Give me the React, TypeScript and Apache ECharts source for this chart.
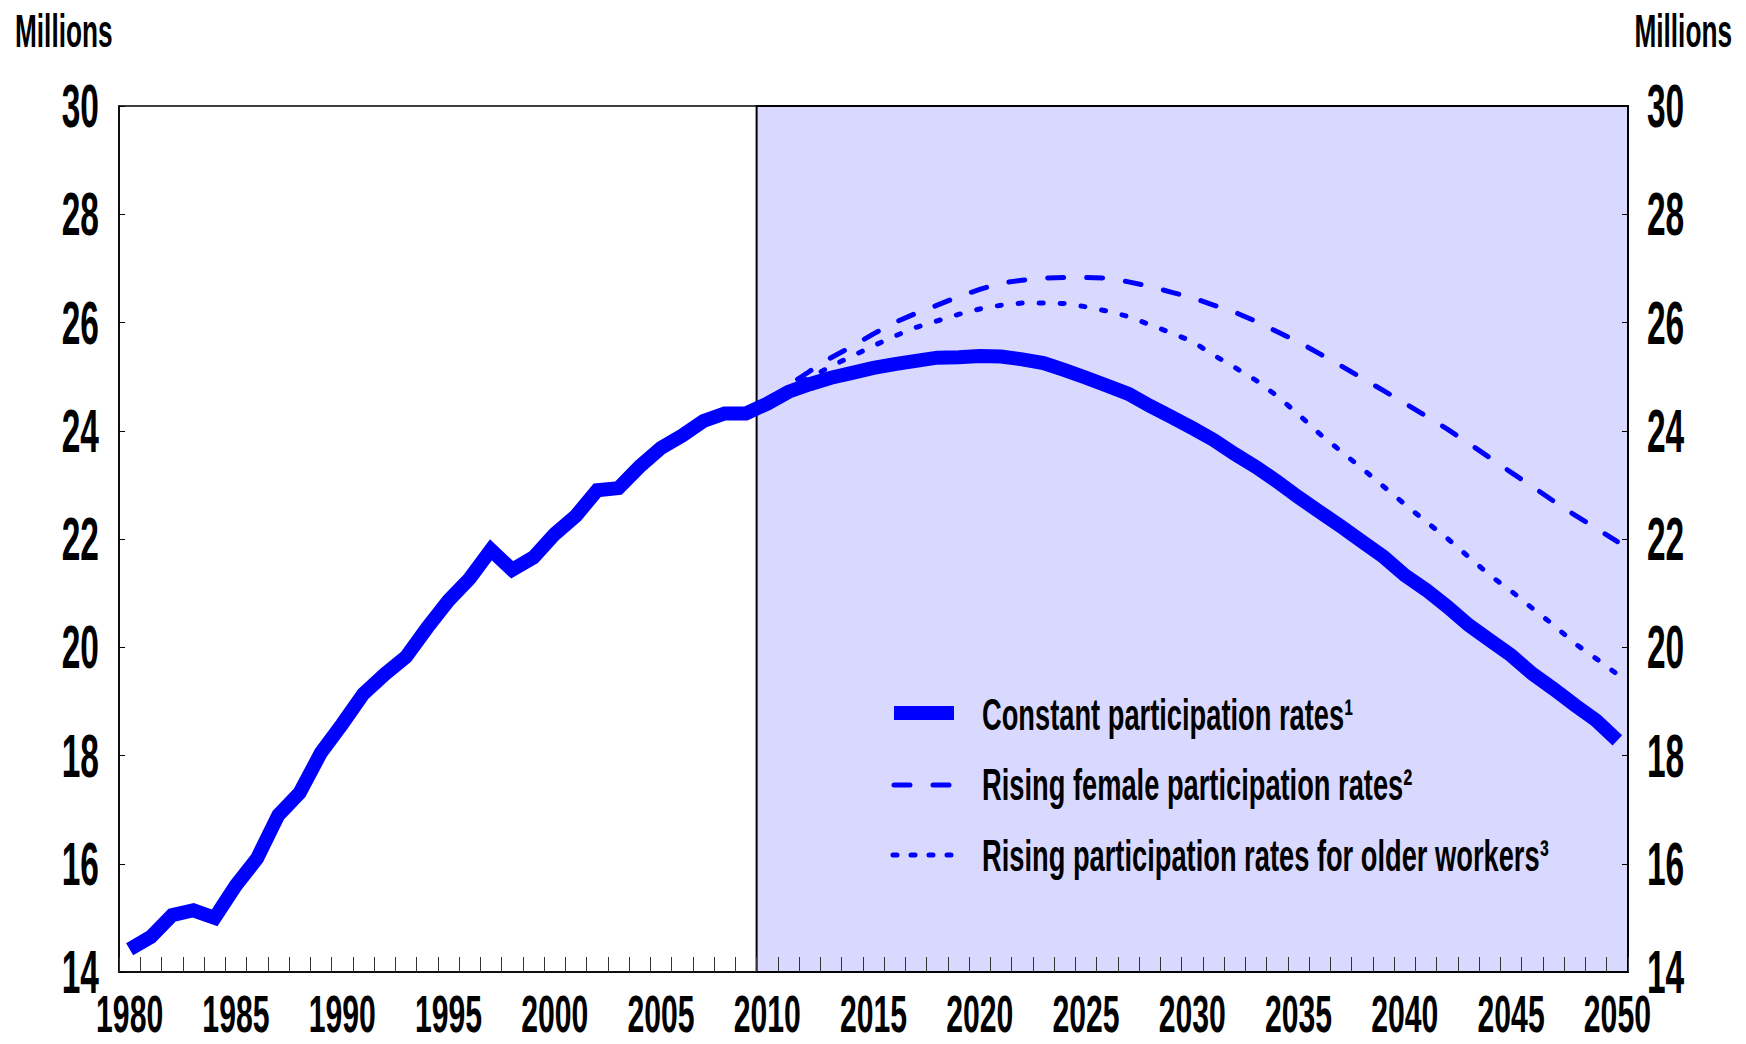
import React, { useEffect, useRef } from 'react';
import * as echarts from 'echarts';

const years = [
  '1980', '1981', '1982', '1983', '1984', '1985', '1986', '1987', '1988', '1989',
  '1990', '1991', '1992', '1993', '1994', '1995', '1996', '1997', '1998', '1999',
  '2000', '2001', '2002', '2003', '2004', '2005', '2006', '2007', '2008', '2009',
  '2010', '2011', '2012', '2013', '2014', '2015', '2016', '2017', '2018', '2019',
  '2020', '2021', '2022', '2023', '2024', '2025', '2026', '2027', '2028', '2029',
  '2030', '2031', '2032', '2033', '2034', '2035', '2036', '2037', '2038', '2039',
  '2040', '2041', '2042', '2043', '2044', '2045', '2046', '2047', '2048', '2049',
  '2050',
];

const xTickLabels = ['1980', '1985', '1990', '1995', '2000', '2005', '2010', '2015',
  '2020', '2025', '2030', '2035', '2040', '2045', '2050'];

const yTickValues = [14, 16, 18, 20, 22, 24, 26, 28, 30];

const constantRates = [
  14.42, 14.65, 15.05, 15.14, 15.0, 15.6, 16.1, 16.9, 17.31, 18.05,
  18.58, 19.14, 19.5, 19.82, 20.36, 20.86, 21.27, 21.8, 21.43, 21.66,
  22.09, 22.43, 22.9, 22.94, 23.34, 23.68, 23.91, 24.18, 24.32, 24.32,
  24.5, 24.72, 24.86, 24.98, 25.07, 25.16, 25.23, 25.29, 25.35, 25.36,
  25.38, 25.37, 25.32, 25.25, 25.12, 24.98, 24.83, 24.68, 24.46, 24.26,
  24.05, 23.83, 23.57, 23.33, 23.06, 22.77, 22.5, 22.23, 21.95, 21.67,
  21.33, 21.06, 20.75, 20.41, 20.13, 19.85, 19.51, 19.23, 18.93, 18.65,
  18.28,
];

const historyGap = [
  null, null, null, null, null, null, null, null, null, null,
  null, null, null, null, null, null, null, null, null, null,
  null, null, null, null, null, null, null, null, null, null,
];

const risingFemaleProjection = [
  24.5, 24.84, 25.1, 25.35, 25.56, 25.79, 26.0, 26.17, 26.32, 26.48,
  26.61, 26.73, 26.78, 26.82, 26.83, 26.83, 26.82, 26.75, 26.67, 26.56,
  26.46, 26.32, 26.19, 26.02, 25.83, 25.64, 25.42, 25.2, 24.97, 24.74,
  24.51, 24.27, 24.03, 23.77, 23.5, 23.23, 22.97, 22.7, 22.44, 22.2,
  21.95,
];

const risingOlderProjection = [
  24.5, 24.8, 24.98, 25.19, 25.38, 25.57, 25.75, 25.91, 26.03, 26.15,
  26.25, 26.32, 26.36, 26.36, 26.35, 26.29, 26.21, 26.11, 25.96, 25.81,
  25.65, 25.4, 25.17, 24.93, 24.64, 24.3, 23.94, 23.62, 23.3, 22.97,
  22.64, 22.32, 22.01, 21.67, 21.33, 21.04, 20.72, 20.41, 20.07, 19.79,
  19.5,
];

const seriesNames = [
  'Constant participation rates¹',
  'Rising female participation rates²',
  'Rising participation rates for older workers³',
];

const unitLabel = 'Millions';
const projectionStartIndex = 30; // 2010
const yRange = { min: 14, max: 30, interval: 2 };

const BLUE = '#0000ff';
const SHADE = '#d9d9ff';
const FONT = '"Liberation Sans", Arial, sans-serif';

export default function App() {
  const ref = useRef<HTMLDivElement>(null);

  useEffect(() => {
    if (!ref.current) return;
    const chart = echarts.init(ref.current, null, { renderer: 'svg' });

    const yAxisBase = {
      type: 'value',
      min: yRange.min,
      max: yRange.max,
      interval: yRange.interval,
      z: 5,
      splitLine: { show: false },
      axisLine: { show: true, lineStyle: { color: '#000', width: 1.5 } },
      axisTick: { show: true, inside: true, length: 6, lineStyle: { color: '#000', width: 1 } },
      axisLabel: { show: false },
    };

    const option = {
      animation: false,
      backgroundColor: '#ffffff',
      grid: {
        left: 119,
        right: 118,
        top: 106,
        bottom: 72,
        show: true,
        borderColor: '#000',
        borderWidth: 1.5,
        backgroundColor: 'transparent',
        containLabel: false,
      },
      xAxis: [
        {
          type: 'category',
          data: years,
          boundaryGap: true,
          z: 5,
          axisLine: { show: true, lineStyle: { color: '#000', width: 1.5 } },
          axisTick: {
            show: true,
            inside: true,
            length: 15,
            interval: 0,
            lineStyle: { color: '#333', width: 1 },
          },
          axisLabel: { show: false },
          splitLine: { show: false },
        },
        {
          type: 'value',
          min: 0,
          max: years.length,
          show: false,
        },
      ],
      yAxis: [
        { ...yAxisBase, position: 'left' },
        { ...yAxisBase, position: 'right' },
      ],
      series: [
        {
          type: 'line',
          name: 'projection-area',
          xAxisIndex: 1,
          yAxisIndex: 0,
          data: [],
          silent: true,
          z: 1,
          markArea: {
            silent: true,
            itemStyle: { color: SHADE, borderColor: '#000', borderWidth: 2 },
            data: [[{ xAxis: projectionStartIndex }, { xAxis: years.length }]],
          },
        },
        {
          type: 'line',
          name: seriesNames[0],
          data: constantRates,
          symbol: 'none',
          z: 3,
          lineStyle: { color: BLUE, width: 14, cap: 'butt', join: 'miter' },
        },
        {
          type: 'line',
          name: seriesNames[1],
          data: [...historyGap, ...risingFemaleProjection],
          symbol: 'none',
          z: 4,
          lineStyle: { color: BLUE, width: 5, type: [16, 23], cap: 'round' },
        },
        {
          type: 'line',
          name: seriesNames[2],
          data: [...historyGap, ...risingOlderProjection],
          symbol: 'none',
          z: 4,
          lineStyle: { color: BLUE, width: 5, type: [4, 17], cap: 'round' },
        },
      ],
    };

    chart.setOption(option as any);

    // Axis-driven positions for the (condensed) tick labels
    const plotLeft = chart.convertToPixel({ xAxisIndex: 1 }, 0) as number;
    const plotRight = chart.convertToPixel({ xAxisIndex: 1 }, years.length) as number;
    const plotBottom = chart.convertToPixel({ yAxisIndex: 0 }, yRange.min) as number;

    const tickText = (text: string, x: number, y: number, align: string, size: number, sx: number) => ({
      type: 'text',
      z: 20,
      x,
      y,
      scaleX: sx,
      silent: true,
      style: {
        text,
        font: `bold ${size}px ${FONT}`,
        fill: '#000',
        textAlign: align,
        textVerticalAlign: 'middle',
      },
    });

    const xLabelGraphics = xTickLabels.map((yr) =>
      tickText(yr, chart.convertToPixel({ xAxisIndex: 0 }, yr) as number, plotBottom + 42, 'center', 52, 0.58)
    );
    const yLabelGraphics = yTickValues.flatMap((v) => {
      const py = chart.convertToPixel({ yAxisIndex: 0 }, v) as number;
      return [
        tickText(String(v), plotLeft - 20, py, 'right', 62, 0.54),
        tickText(String(v), plotRight + 19, py, 'left', 62, 0.54),
      ];
    });

    const legendY = [713, 785, 855];
    const legendTextY = [715, 785, 856];

    const graphics = [
      tickText(unitLabel, 15, 31, 'left', 46, 0.57),
      tickText(unitLabel, 1732, 31, 'right', 46, 0.57),
      ...xLabelGraphics,
      ...yLabelGraphics,
      {
        type: 'line',
        z: 10,
        silent: true,
        shape: { x1: 894, y1: legendY[0], x2: 954, y2: legendY[0] },
        style: { stroke: BLUE, lineWidth: 14 },
      },
      {
        type: 'line',
        z: 10,
        silent: true,
        shape: { x1: 894, y1: legendY[1], x2: 954, y2: legendY[1] },
        style: { stroke: BLUE, lineWidth: 5, lineDash: [16, 23], lineCap: 'round' },
      },
      {
        type: 'line',
        z: 10,
        silent: true,
        shape: { x1: 893, y1: legendY[2], x2: 954, y2: legendY[2] },
        style: { stroke: BLUE, lineWidth: 5, lineDash: [4, 14], lineCap: 'round' },
      },
      ...seriesNames.map((name, i) => tickText(name, 982, legendTextY[i], 'left', 44, 0.62)),
    ];

    chart.setOption({ graphic: graphics } as any);
    return () => chart.dispose();
  }, []);

  return (
    <div
      ref={ref}
      style={{ position: 'fixed', left: 0, top: 0, width: 1746, height: 1044, background: '#fff' }}
    />
  );
}
